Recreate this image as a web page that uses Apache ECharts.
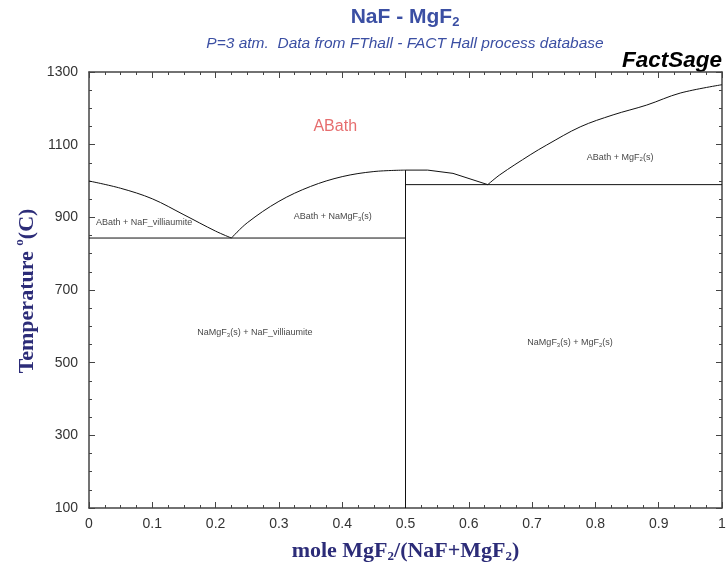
<!DOCTYPE html>
<html>
<head>
<meta charset="utf-8">
<script src="https://cdn.jsdelivr.net/npm/echarts@6/dist/echarts.min.js"></script>
<style>
  html, body { margin: 0; padding: 0; background: #ffffff; }
  #chart { width: 726px; height: 572px; }
</style>
</head>
<body>
<div id="chart"></div>
<script>
// NaF - MgF2 phase diagram, P = 3 atm

// Liquidus, NaF_villiaumite primary field
const liqNaFX = [0, 0.05, 0.1, 0.15, 0.2, 0.225];
const liqNaFT = [1000, 980, 951, 907, 862, 843];
// Liquidus, NaMgF3(s) primary field (NaF-rich side)
const liqCompLeftX = [0.225, 0.25, 0.3, 0.35, 0.4, 0.45, 0.5];
const liqCompLeftT = [843, 885, 944, 985, 1012, 1026, 1030];
// Liquidus, NaMgF3(s) primary field (MgF2-rich side)
const liqCompRightX = [0.5, 0.535, 0.575, 0.63];
const liqCompRightT = [1030, 1030, 1021, 990];
// Liquidus, MgF2(s) primary field
const liqMgF2X = [0.63, 0.649, 0.697, 0.723, 0.776, 0.828, 0.881, 0.934, 1];
const liqMgF2T = [990, 1017, 1072, 1099, 1149, 1182, 1209, 1242, 1265];
// Invariant lines
const eutectic1X = [0, 0.5];
const eutectic1T = [843, 843];
const eutectic2X = [0.5, 1];
const eutectic2T = [990, 990];
const compoundX = [0.5, 0.5];
const compoundT = [100, 1030];

// Phase field names and their anchor points (mole fraction, temperature)
const liquidName = ['ABath'];
const liquidAt = [[0.389, 1150]];
const fieldNames = [
  'ABath + NaF_villiaumite',
  'ABath + NaMgF{s|3}(s)',
  'ABath + MgF{s|2}(s)',
  'NaMgF{s|3}(s) + NaF_villiaumite',
  'NaMgF{s|3}(s) + MgF{s|2}(s)'
];
const fieldAt = [[0.087, 887], [0.385, 901], [0.839, 1066], [0.262, 582], [0.760, 555]];

// Axis ticks
const xTicks = [0, 0.1, 0.2, 0.3, 0.4, 0.5, 0.6, 0.7, 0.8, 0.9, 1];
const yTicks = [100, 300, 500, 700, 900, 1100, 1300];

const pair = (xs, ys) => xs.map((x, i) => [x, ys[i]]);

const AX = '#444444';
const NAVY = '#2c2c78';
const BLUE = '#3b4fa3';

const chart = echarts.init(document.getElementById('chart'), null, { renderer: 'canvas' });

const axisCommon = {
  type: 'value',
  axisLine: { show: true, onZero: false, lineStyle: { color: AX, width: 1.5 } },
  axisTick: { show: true, inside: true, length: 6, lineStyle: { color: AX, width: 1 } },
  minorTick: { show: true, splitNumber: 4, length: 3, lineStyle: { color: AX, width: 1 } },
  splitLine: { show: false },
  minorSplitLine: { show: false }
};

const xBase = Object.assign({}, axisCommon, {
  min: xTicks[0], max: xTicks[xTicks.length - 1], interval: 0.1
});
const yBase = Object.assign({}, axisCommon, {
  min: yTicks[0], max: yTicks[yTicks.length - 1], interval: 200
});

const lineSeries = (xs, ys, smooth) => ({
  type: 'line',
  data: pair(xs, ys),
  showSymbol: false,
  symbol: 'none',
  smooth: smooth ? 0.35 : false,
  lineStyle: { color: '#111111', width: 1 },
  silent: true,
  z: 3
});

const serifBold = { fontFamily: 'Liberation Serif, Times New Roman, serif', fontWeight: 'bold' };

const option = {
  backgroundColor: '#ffffff',
  animation: false,
  grid: { left: 89, right: 4, top: 72, bottom: 64, containLabel: false, outerBoundsMode: 'none' },
  xAxis: [
    Object.assign({}, xBase, {
      position: 'bottom',
      axisLabel: {
        show: true, margin: 9, fontFamily: 'Liberation Sans, Arial, sans-serif',
        fontSize: 14, color: '#333333',
        formatter: v => String(Math.round(v * 10) / 10)
      },
      name: 'mole MgF{s|2}/(NaF+MgF{s|2})',
      nameLocation: 'middle',
      nameGap: 32,
      nameTextStyle: Object.assign({}, serifBold, {
        fontSize: 22, color: NAVY,
        rich: {
          s: Object.assign({}, serifBold, { fontSize: 13, color: NAVY, padding: [10, 0, 0, 0] })
        }
      })
    }),
    Object.assign({}, xBase, { position: 'top', axisLabel: { show: false } })
  ],
  yAxis: [
    Object.assign({}, yBase, {
      position: 'left',
      axisLabel: {
        show: true, margin: 11, fontFamily: 'Liberation Sans, Arial, sans-serif',
        fontSize: 14, color: '#333333',
        formatter: v => String(v)
      }
    }),
    Object.assign({}, yBase, { position: 'right', axisLabel: { show: false } })
  ],
  graphic: [
    {
      type: 'text', x: 405, y: 6,
      style: {
        text: '{t|NaF - MgF}{s|2}',
        textAlign: 'center',
        rich: {
          t: { fontFamily: 'Liberation Sans, Arial, sans-serif', fontWeight: 'bold', fontSize: 21, fill: BLUE },
          s: { fontFamily: 'Liberation Sans, Arial, sans-serif', fontWeight: 'bold', fontSize: 13, fill: BLUE, padding: [10, 0, 0, 0] }
        }
      }
    },
    {
      type: 'text', x: 405, y: 36,
      style: {
        text: 'P=3 atm.  Data from FThall - FACT Hall process database',
        textAlign: 'center',
        font: 'italic 15.5px "Liberation Sans", Arial, sans-serif',
        fill: BLUE
      }
    },
    {
      type: 'text', x: 722, y: 49,
      style: {
        text: 'FactSage',
        textAlign: 'right',
        font: 'italic bold 22.5px "Liberation Sans", Arial, sans-serif',
        fill: '#000000'
      }
    },
    {
      // vertical axis title
      type: 'text', x: 27, y: 291, rotation: Math.PI / 2,
      style: {
        text: '{t|Temperature }{p|o}{t|(C)}',
        align: 'center',
        verticalAlign: 'middle',
        rich: {
          t: Object.assign({}, serifBold, { fontSize: 22, fill: NAVY }),
          p: Object.assign({}, serifBold, { fontSize: 13, fill: NAVY, padding: [0, 0, 14, 0] })
        }
      }
    }
  ],
  series: [
    lineSeries(liqNaFX, liqNaFT, true),
    lineSeries(liqCompLeftX, liqCompLeftT, true),
    lineSeries(liqCompRightX, liqCompRightT, false),
    lineSeries(liqMgF2X, liqMgF2T, true),
    lineSeries(eutectic1X, eutectic1T, false),
    lineSeries(eutectic2X, eutectic2T, false),
    lineSeries(compoundX, compoundT, false),
    {
      type: 'scatter',
      symbolSize: 0,
      silent: true,
      data: liquidAt.map((p, i) => ({ value: p, name: liquidName[i] })),
      label: {
        show: true, position: 'inside', formatter: p => p.name,
        fontFamily: 'Liberation Sans, Arial, sans-serif', fontSize: 16, color: '#e0484a'
      }
    },
    {
      type: 'scatter',
      symbolSize: 0,
      silent: true,
      data: fieldAt.map((p, i) => ({ value: p, name: fieldNames[i] })),
      label: {
        show: true, position: 'inside', formatter: p => p.name,
        fontFamily: 'Liberation Sans Narrow, Liberation Sans, Arial, sans-serif',
        fontSize: 9, color: '#111111',
        rich: {
          s: { fontFamily: 'Liberation Sans, Arial, sans-serif', fontSize: 6, color: '#111111', padding: [5, 0, 0, 0] }
        }
      }
    }
  ]
};

chart.setOption(option);
</script>
</body>
</html>
